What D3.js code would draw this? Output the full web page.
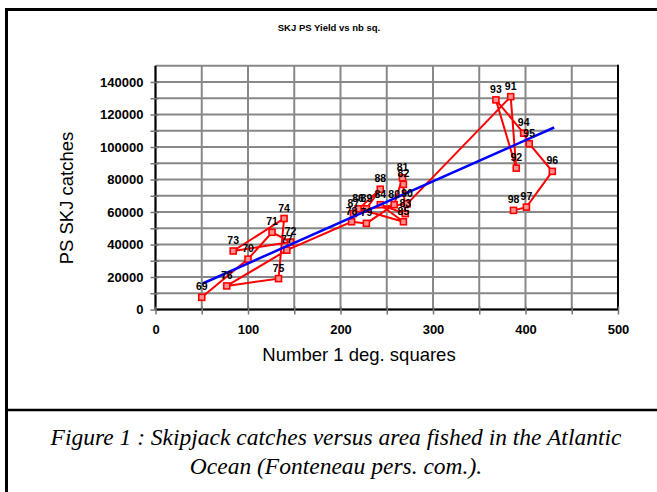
<!DOCTYPE html>
<html><head><meta charset="utf-8">
<script src="https://cdn.jsdelivr.net/npm/d3@7"></script>
<style>
html,body{margin:0;padding:0;background:#fff;}
svg{display:block;}
</style></head>
<body>
<svg id="c" width="657" height="492"></svg>
<script>
// ---- data ----
const years = ["69","70","71","72","73","74","75","76","77","78","79","80","81","82","83","84","85","86","87","88","89","90","91","92","93","94","95","96","97","98"];
const squares = [50,100,126,146,84,139,133,77,142, 212,228,258,267,268,270,243,268,219,214,243,228,272, 384,390,368,398,404,429,401,387];
const catches = [7500,31000,47500,41500,36000,56000,19000,14500,36500, 54000,53000,64500,81000,77000,59000,64500,54000,62000,59000,74000,62000,65000, 131000,87000,129000,108500,102000,85000,63000,61000];
const trendX = [51, 431];
const trendY = [16000, 112000];
const xTicks = [0,100,200,300,400,500];
const xGrid = [0,50,100,150,200,250,300,350,400,450,500];
const yTicks = [0,20000,40000,60000,80000,100000,120000,140000];
const yGrid = [0,10000,20000,30000,40000,50000,60000,70000,80000,90000,100000,110000,120000,130000,140000,150000];

const svg = d3.select("#c");
const L = 155.5, R = 618, T = 65.75, B = 309.5;
const x = d3.scaleLinear().domain([0,500]).range([L,R]);
const y = d3.scaleLinear().domain([0,150000]).range([B,T]);
const SANS = "Liberation Sans, Arial, sans-serif";

// outer frame
svg.append("rect").attr("x",6.5).attr("y",9.5).attr("width",660).attr("height",500)
  .attr("fill","none").attr("stroke","#000").attr("stroke-width",3);
svg.append("line").attr("x1",6).attr("x2",660).attr("y1",410).attr("y2",410)
  .attr("stroke","#000").attr("stroke-width",2.5);

// title
svg.append("text").attr("x",329).attr("y",31).attr("text-anchor","middle")
  .attr("font-family",SANS).attr("font-weight","bold")
  .attr("font-size",9.5).text("SKJ PS Yield vs nb sq.");

// grid
const g = svg.append("g");
g.selectAll(".vg").data(xGrid).join("line")
  .attr("x1",d=>x(d)).attr("x2",d=>x(d)).attr("y1",T).attr("y2",B)
  .attr("stroke","#888").attr("stroke-width",2);
g.selectAll(".hg").data(yGrid).join("line")
  .attr("x1",L).attr("x2",R).attr("y1",d=>y(d)).attr("y2",d=>y(d))
  .attr("stroke","#888").attr("stroke-width",2);
// right border
g.append("line").attr("x1",R).attr("x2",R).attr("y1",T-1).attr("y2",B)
  .attr("stroke","#000").attr("stroke-width",2);

// axes
const yAxis = d3.axisLeft(y).tickValues(yGrid.slice(0,15))
  .tickFormat(d=> yTicks.includes(d) ? d3.format("d")(d) : "")
  .tickSizeInner(5).tickSizeOuter(0).tickPadding(7);
const ya = svg.append("g").attr("transform",`translate(${L},0)`).call(yAxis);
ya.select(".domain").attr("stroke","#000").attr("stroke-width",2).attr("d",`M0,${T}V${B}`);
ya.selectAll(".tick line").attr("stroke","#777").attr("stroke-width",1.5).attr("x1",3);
ya.selectAll(".tick text").attr("font-family",SANS)
  .attr("font-weight","bold").attr("font-size",13).attr("fill","#000");

const xAxis = d3.axisBottom(x).tickValues(xGrid)
  .tickFormat(d=> xTicks.includes(d) ? String(d) : "")
  .tickSizeInner(5).tickSizeOuter(0).tickPadding(10);
const xa = svg.append("g").attr("transform",`translate(0,${B})`).call(xAxis);
xa.select(".domain").attr("stroke","#000").attr("stroke-width",2).attr("d",`M${L},0H${R}`);
xa.selectAll(".tick line").attr("stroke","#777").attr("stroke-width",1.5).attr("y1",-3);
xa.selectAll(".tick text").attr("font-family",SANS)
  .attr("font-weight","bold").attr("font-size",13).attr("fill","#000");

// axis titles
svg.append("text").attr("x",359).attr("y",361).attr("text-anchor","middle")
  .attr("font-family",SANS).attr("font-size",18.5)
  .text("Number 1 deg. squares");
svg.append("text").attr("transform","translate(72.5,198) rotate(-90)").attr("text-anchor","middle")
  .attr("font-family",SANS).attr("font-size",18.5)
  .text("PS SKJ catches");

// series
const pts = years.map((yr,i)=>({yr, x:squares[i], y:catches[i]}));
svg.append("path").datum(pts)
  .attr("d", d3.line().x(d=>x(d.x)).y(d=>y(d.y)))
  .attr("fill","none").attr("stroke","#ff0000").attr("stroke-width",2);
svg.selectAll(".m").data(pts).join("rect")
  .attr("x",d=>x(d.x)-3).attr("y",d=>y(d.y)-3).attr("width",6).attr("height",6)
  .attr("fill","#ff9090").attr("stroke","#ff0000").attr("stroke-width",1.6);

// trend line
svg.append("line").attr("x1",x(trendX[0])).attr("y1",y(trendY[0]))
  .attr("x2",x(trendX[1])).attr("y2",y(trendY[1]))
  .attr("stroke","#0000ff").attr("stroke-width",2.5);

// labels
svg.selectAll(".lab").data(pts).join("text")
  .attr("x",d=>x(d.x)).attr("y",d=>y(d.y)-7)
  .attr("text-anchor","middle")
  .attr("font-family",SANS).attr("font-weight","bold")
  .attr("font-size",10.5).attr("fill","#000").text(d=>d.yr);

// caption
const cap = svg.append("text").attr("text-anchor","middle")
  .attr("font-family","Liberation Serif, Times New Roman, serif").attr("font-style","italic")
  .attr("font-size",23.5);
cap.append("tspan").attr("x",336).attr("y",445).text("Figure 1 : Skipjack catches versus area fished in the Atlantic");
cap.append("tspan").attr("x",336).attr("y",474).text("Ocean (Fonteneau pers. com.).");
</script>
</body></html>
